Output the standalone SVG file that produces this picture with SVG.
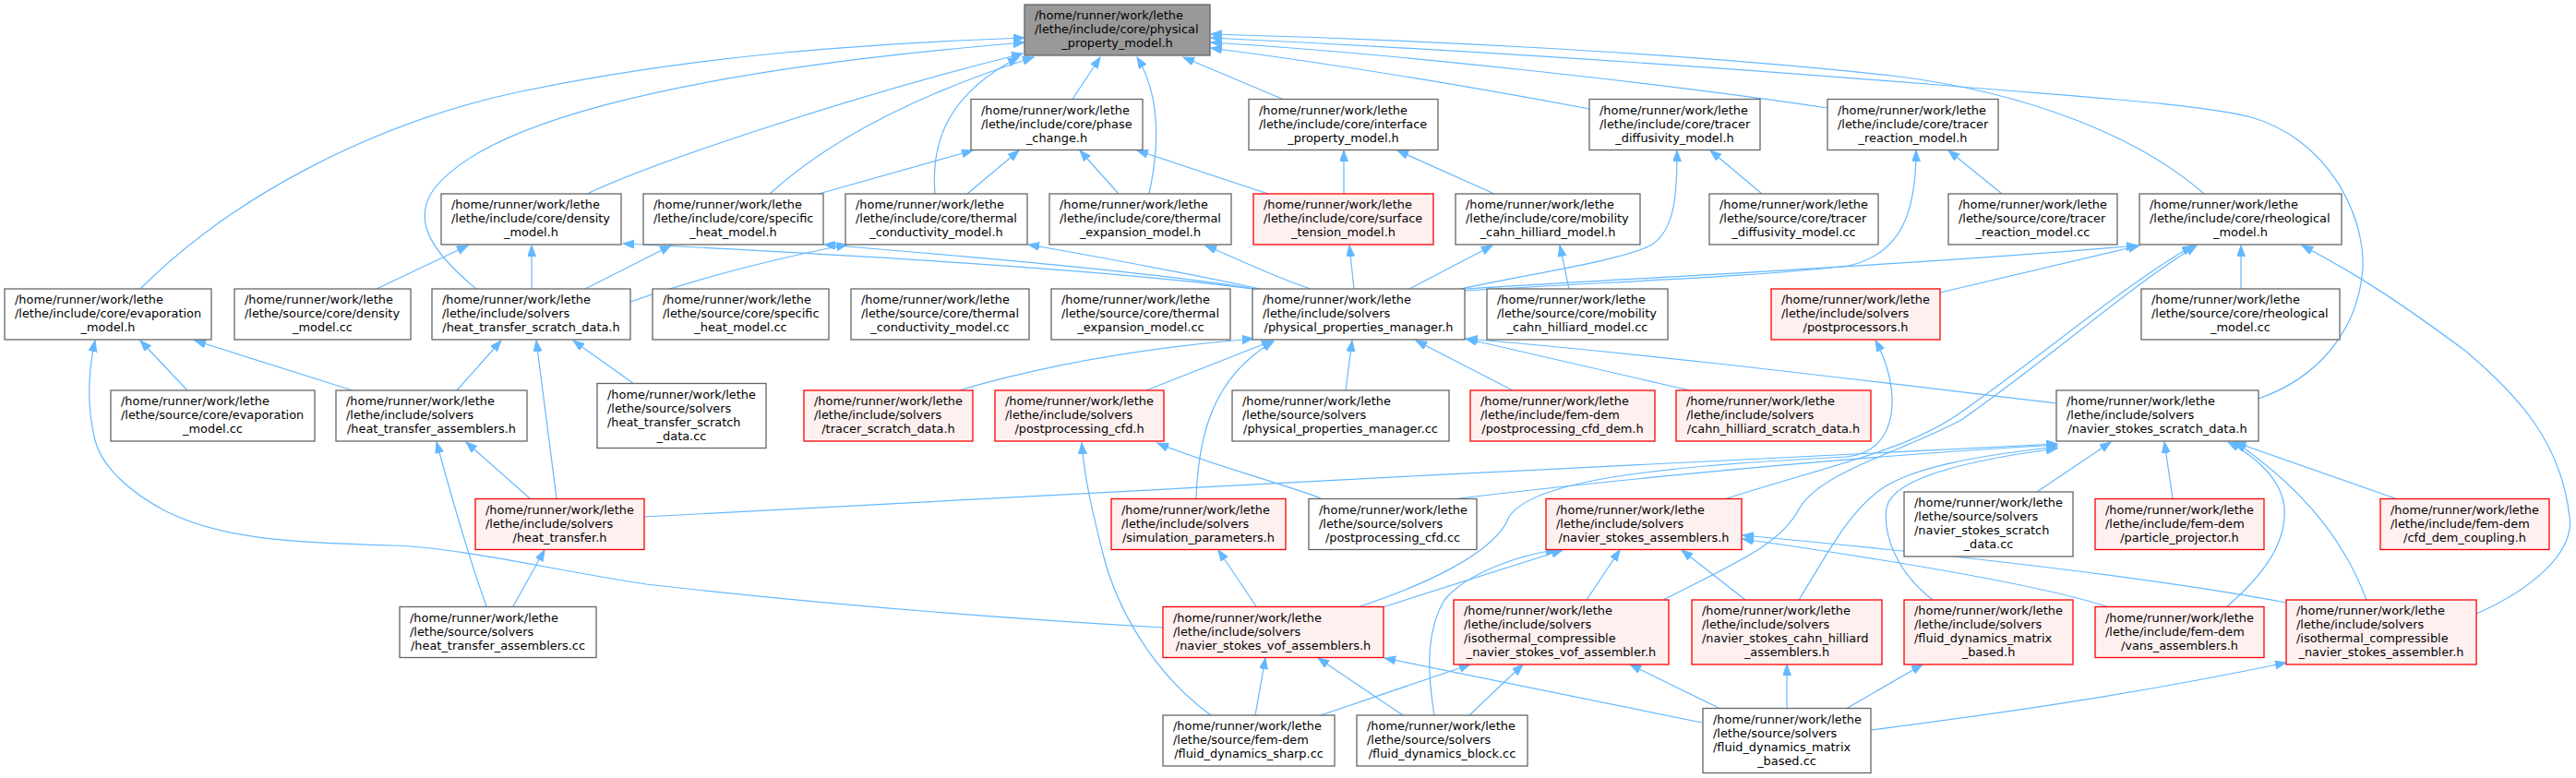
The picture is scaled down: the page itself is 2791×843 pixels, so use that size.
<svg xmlns="http://www.w3.org/2000/svg" width="2791" height="843" viewBox="0 0 2791 843">
<defs>
<style>
.node rect{fill:#ffffff;stroke:#666666;stroke-width:1.3}
.node.root rect{fill:#999999}
.node.red rect{fill:#fff0f0;stroke:#ff0000}
.node text{font-family:"DejaVu Sans",sans-serif;font-size:12.9px;fill:#000000}
.c{text-anchor:middle}
#edges path{fill:none;stroke:#63b8ff;stroke-width:1.2;marker-end:url(#ah)}
</style>
<marker id="ah" markerUnits="userSpaceOnUse" markerWidth="13" markerHeight="10" refX="12" refY="4.5" orient="auto"><path d="M0,0 L12,4.5 L0,9 Z" fill="#63b8ff" stroke="#63b8ff" stroke-width="1"/></marker>
</defs>
<rect width="2791" height="843" fill="#ffffff"/>
<g id="edges">
<path d="M152,313 C250,215 400,135 560,100 C760,58 950,47 1110,41"/>
<path d="M516,313 C470,275 445,240 470,205 C520,140 700,80 1110,46"/>
<path d="M636,210 C700,180 900,110 1108,58"/>
<path d="M834,210 C900,150 1000,100 1120,62"/>
<path d="M1013,210 C1008,150 1030,100 1104,62"/>
<path d="M1162,107.5 L1192,62"/>
<path d="M1245,210 C1258,150 1255,100 1232,62"/>
<path d="M1390,107.5 L1282,62"/>
<path d="M1722,118 C1600,95 1450,70 1312,52"/>
<path d="M1980,117 C1800,90 1500,57 1312,46"/>
<path d="M2388,210 C2320,150 2200,100 2050,82 C1800,55 1500,42 1312,37"/>
<path d="M2447,432 C2510,410 2555,360 2560,290 C2562,230 2520,150 2439,127 C2380,112 2250,105 2100,92 C1800,68 1500,50 1312,41"/>
<path d="M887,210 L1054,163"/>
<path d="M1048,210 L1104,163"/>
<path d="M1212,210 L1170,163"/>
<path d="M1374,210 L1232,163"/>
<path d="M1456,210 L1456,163"/>
<path d="M1619,210 L1514,163"/>
<path d="M1909,210 L1853,163"/>
<path d="M1583,313 C1650,298 1760,282 1790,265 C1815,248 1817,210 1817,163"/>
<path d="M2169,210 L2111,163"/>
<path d="M1587,315 C1750,305 1900,300 2003,288 C2060,275 2076,230 2076,163"/>
<path d="M408,313 L507,266"/>
<path d="M576,313 L576,266"/>
<path d="M634,313 L727,266"/>
<path d="M683,327 C760,300 850,278 918,265"/>
<path d="M1357,313 C1200,292 900,275 675,264"/>
<path d="M1360,313 C1250,295 1050,278 893,265"/>
<path d="M1365,313 C1280,295 1200,280 1114,265"/>
<path d="M1420,313 C1380,300 1340,280 1306,266"/>
<path d="M1467,313 L1462,266"/>
<path d="M1527,313 L1617,266"/>
<path d="M1700,313 L1690,266"/>
<path d="M1587,313 C1800,300 2100,285 2316,266"/>
<path d="M2428,313 L2428,266"/>
<path d="M2102,317 L2318,266"/>
<path d="M2683,665 C2740,640 2790,600 2784,560 C2775,480 2730,430 2671,380 C2610,335 2560,300 2494,266"/>
<path d="M1871,540 C1980,505 2060,490 2120,450 C2220,380 2300,310 2376,266"/>
<path d="M1802,650 C1880,610 1930,590 1950,550 C1975,510 2060,490 2125,455 C2225,385 2305,312 2380,266"/>
<path d="M203,423 L152,369"/>
<path d="M382,423 L211,369"/>
<path d="M495,423 L543,369"/>
<path d="M687,416 L621,369"/>
<path d="M574,540 L505,479"/>
<path d="M603,540 L581,369"/>
<path d="M527,657 C510,610 495,560 473,479"/>
<path d="M556,657 L590,596"/>
<path d="M1260,680 C1050,668 850,650 700,633 C600,618 500,593 424,591 C320,588 240,585 178,553 C140,533 110,505 103,477 C95,445 94,410 103,369"/>
<path d="M698,560 C1000,545 1800,500 2229,481"/>
<path d="M1039,423 C1100,405 1200,380 1358,367"/>
<path d="M1242,423 L1379,369"/>
<path d="M1458,423 L1465,369"/>
<path d="M1639,423 L1534,369"/>
<path d="M1831,423 L1588,367"/>
<path d="M2228,437 C2000,410 1800,385 1589,367"/>
<path d="M1296,540 C1298,480 1310,410 1380,370"/>
<path d="M1431,540 C1400,527 1300,500 1254,480"/>
<path d="M1312,775 C1250,730 1210,660 1195,600 C1185,560 1175,520 1172,480"/>
<path d="M1361,657 L1320,596"/>
<path d="M1360,775 L1371,713"/>
<path d="M1431,775 L1593,720"/>
<path d="M1520,775 L1428,713"/>
<path d="M1592,775 L1650,720"/>
<path d="M1554,775 C1545,720 1547,680 1565,650 C1590,620 1650,600 1687,596"/>
<path d="M1844,783 L1500,713"/>
<path d="M1864,768 L1766,720"/>
<path d="M1936,768 L1936,720"/>
<path d="M2000,768 L2083,720"/>
<path d="M2027,791 C2150,775 2300,755 2477,718"/>
<path d="M1498,658 L1693,596"/>
<path d="M1471,658 C1540,635 1620,600 1635,560 C1660,520 1800,505 2000,495 C2060,490 2060,420 2032,369"/>
<path d="M1719,650 L1755,596"/>
<path d="M1891,650 L1822,596"/>
<path d="M2285,658 C2200,630 2000,600 1888,584"/>
<path d="M2477,653 C2300,620 2050,595 1888,580"/>
<path d="M2207,533 L2287,479"/>
<path d="M2354,540 L2345,479"/>
<path d="M2412,658 C2450,625 2478,590 2475,550 C2472,520 2445,495 2414,479"/>
<path d="M2564,650 C2545,600 2510,540 2422,479"/>
<path d="M2595,540 L2421,479"/>
<path d="M1581,540 C1750,520 2000,495 2229,482"/>
<path d="M1949,650 C1980,600 2000,560 2034,533 C2070,505 2150,493 2229,484"/>
<path d="M2094,650 C2055,620 2040,580 2044,550 C2050,520 2120,500 2229,486"/>
</g>
<g id="n_root" class="node root"><rect x="1110" y="5" width="201" height="55"/><text><tspan x="1121" y="21">/home/runner/work/lethe</tspan><tspan x="1121" y="36">/lethe/include/core/physical</tspan><tspan class="c" x="1210.5" y="51">_property_model.h</tspan></text></g>
<g id="n_phase_change" class="node"><rect x="1052" y="107.5" width="186" height="55"/><text><tspan x="1063" y="123.5">/home/runner/work/lethe</tspan><tspan x="1063" y="138.5">/lethe/include/core/phase</tspan><tspan class="c" x="1145" y="153.5">_change.h</tspan></text></g>
<g id="n_interface" class="node"><rect x="1353" y="107.5" width="205" height="55"/><text><tspan x="1364" y="123.5">/home/runner/work/lethe</tspan><tspan x="1364" y="138.5">/lethe/include/core/interface</tspan><tspan class="c" x="1455.5" y="153.5">_property_model.h</tspan></text></g>
<g id="n_tracer_diff_h" class="node"><rect x="1722" y="107.5" width="185" height="55"/><text><tspan x="1733" y="123.5">/home/runner/work/lethe</tspan><tspan x="1733" y="138.5">/lethe/include/core/tracer</tspan><tspan class="c" x="1814.5" y="153.5">_diffusivity_model.h</tspan></text></g>
<g id="n_tracer_react_h" class="node"><rect x="1980" y="107.5" width="185" height="55"/><text><tspan x="1991" y="123.5">/home/runner/work/lethe</tspan><tspan x="1991" y="138.5">/lethe/include/core/tracer</tspan><tspan class="c" x="2072.5" y="153.5">_reaction_model.h</tspan></text></g>
<g id="n_density_h" class="node"><rect x="478" y="210" width="195" height="55"/><text><tspan x="489" y="226">/home/runner/work/lethe</tspan><tspan x="489" y="241">/lethe/include/core/density</tspan><tspan class="c" x="575.5" y="256">_model.h</tspan></text></g>
<g id="n_specific_heat_h" class="node"><rect x="697" y="210" width="195" height="55"/><text><tspan x="708" y="226">/home/runner/work/lethe</tspan><tspan x="708" y="241">/lethe/include/core/specific</tspan><tspan class="c" x="794.5" y="256">_heat_model.h</tspan></text></g>
<g id="n_thermal_cond_h" class="node"><rect x="916" y="210" width="197" height="55"/><text><tspan x="927" y="226">/home/runner/work/lethe</tspan><tspan x="927" y="241">/lethe/include/core/thermal</tspan><tspan class="c" x="1014.5" y="256">_conductivity_model.h</tspan></text></g>
<g id="n_thermal_exp_h" class="node"><rect x="1137" y="210" width="197" height="55"/><text><tspan x="1148" y="226">/home/runner/work/lethe</tspan><tspan x="1148" y="241">/lethe/include/core/thermal</tspan><tspan class="c" x="1235.5" y="256">_expansion_model.h</tspan></text></g>
<g id="n_surface_tension_h" class="node red"><rect x="1358" y="210" width="195" height="55"/><text><tspan x="1369" y="226">/home/runner/work/lethe</tspan><tspan x="1369" y="241">/lethe/include/core/surface</tspan><tspan class="c" x="1455.5" y="256">_tension_model.h</tspan></text></g>
<g id="n_mobility_h" class="node"><rect x="1577" y="210" width="200" height="55"/><text><tspan x="1588" y="226">/home/runner/work/lethe</tspan><tspan x="1588" y="241">/lethe/include/core/mobility</tspan><tspan class="c" x="1677" y="256">_cahn_hilliard_model.h</tspan></text></g>
<g id="n_tracer_diff_cc" class="node"><rect x="1852" y="210" width="183" height="55"/><text><tspan x="1863" y="226">/home/runner/work/lethe</tspan><tspan x="1863" y="241">/lethe/source/core/tracer</tspan><tspan class="c" x="1943.5" y="256">_diffusivity_model.cc</tspan></text></g>
<g id="n_tracer_react_cc" class="node"><rect x="2111" y="210" width="183" height="55"/><text><tspan x="2122" y="226">/home/runner/work/lethe</tspan><tspan x="2122" y="241">/lethe/source/core/tracer</tspan><tspan class="c" x="2202.5" y="256">_reaction_model.cc</tspan></text></g>
<g id="n_rheological_h" class="node"><rect x="2318" y="210" width="219" height="55"/><text><tspan x="2329" y="226">/home/runner/work/lethe</tspan><tspan x="2329" y="241">/lethe/include/core/rheological</tspan><tspan class="c" x="2427.5" y="256">_model.h</tspan></text></g>
<g id="n_evaporation_h" class="node"><rect x="5" y="313" width="224" height="55"/><text><tspan x="16" y="329">/home/runner/work/lethe</tspan><tspan x="16" y="344">/lethe/include/core/evaporation</tspan><tspan class="c" x="117" y="359">_model.h</tspan></text></g>
<g id="n_density_cc" class="node"><rect x="254" y="313" width="191" height="55"/><text><tspan x="265" y="329">/home/runner/work/lethe</tspan><tspan x="265" y="344">/lethe/source/core/density</tspan><tspan class="c" x="349.5" y="359">_model.cc</tspan></text></g>
<g id="n_ht_scratch_h" class="node"><rect x="468" y="313" width="215" height="55"/><text><tspan x="479" y="329">/home/runner/work/lethe</tspan><tspan x="479" y="344">/lethe/include/solvers</tspan><tspan class="c" x="575.5" y="359">/heat_transfer_scratch_data.h</tspan></text></g>
<g id="n_specific_heat_cc" class="node"><rect x="707" y="313" width="191" height="55"/><text><tspan x="718" y="329">/home/runner/work/lethe</tspan><tspan x="718" y="344">/lethe/source/core/specific</tspan><tspan class="c" x="802.5" y="359">_heat_model.cc</tspan></text></g>
<g id="n_thermal_cond_cc" class="node"><rect x="922" y="313" width="193" height="55"/><text><tspan x="933" y="329">/home/runner/work/lethe</tspan><tspan x="933" y="344">/lethe/source/core/thermal</tspan><tspan class="c" x="1018.5" y="359">_conductivity_model.cc</tspan></text></g>
<g id="n_thermal_exp_cc" class="node"><rect x="1139" y="313" width="194" height="55"/><text><tspan x="1150" y="329">/home/runner/work/lethe</tspan><tspan x="1150" y="344">/lethe/source/core/thermal</tspan><tspan class="c" x="1236" y="359">_expansion_model.cc</tspan></text></g>
<g id="n_ppm_h" class="node"><rect x="1357" y="313" width="230" height="55"/><text><tspan x="1368" y="329">/home/runner/work/lethe</tspan><tspan x="1368" y="344">/lethe/include/solvers</tspan><tspan class="c" x="1472" y="359">/physical_properties_manager.h</tspan></text></g>
<g id="n_mobility_cc" class="node"><rect x="1611" y="313" width="196" height="55"/><text><tspan x="1622" y="329">/home/runner/work/lethe</tspan><tspan x="1622" y="344">/lethe/source/core/mobility</tspan><tspan class="c" x="1709" y="359">_cahn_hilliard_model.cc</tspan></text></g>
<g id="n_postprocessors_h" class="node red"><rect x="1919" y="313" width="183" height="55"/><text><tspan x="1930" y="329">/home/runner/work/lethe</tspan><tspan x="1930" y="344">/lethe/include/solvers</tspan><tspan class="c" x="2010.5" y="359">/postprocessors.h</tspan></text></g>
<g id="n_rheological_cc" class="node"><rect x="2320" y="313" width="215" height="55"/><text><tspan x="2331" y="329">/home/runner/work/lethe</tspan><tspan x="2331" y="344">/lethe/source/core/rheological</tspan><tspan class="c" x="2427.5" y="359">_model.cc</tspan></text></g>
<g id="n_evaporation_cc" class="node"><rect x="120" y="423" width="221" height="55"/><text><tspan x="131" y="439">/home/runner/work/lethe</tspan><tspan x="131" y="454">/lethe/source/core/evaporation</tspan><tspan class="c" x="230.5" y="469">_model.cc</tspan></text></g>
<g id="n_ht_assemblers_h" class="node"><rect x="364" y="423" width="207" height="55"/><text><tspan x="375" y="439">/home/runner/work/lethe</tspan><tspan x="375" y="454">/lethe/include/solvers</tspan><tspan class="c" x="467.5" y="469">/heat_transfer_assemblers.h</tspan></text></g>
<g id="n_ht_scratch_cc" class="node"><rect x="647" y="415.5" width="183" height="70"/><text><tspan x="658" y="431.5">/home/runner/work/lethe</tspan><tspan x="658" y="446.5">/lethe/source/solvers</tspan><tspan x="658" y="461.5">/heat_transfer_scratch</tspan><tspan class="c" x="738.5" y="476.5">_data.cc</tspan></text></g>
<g id="n_tracer_scratch_h" class="node red"><rect x="871" y="423" width="183" height="55"/><text><tspan x="882" y="439">/home/runner/work/lethe</tspan><tspan x="882" y="454">/lethe/include/solvers</tspan><tspan class="c" x="962.5" y="469">/tracer_scratch_data.h</tspan></text></g>
<g id="n_postproc_cfd_h" class="node red"><rect x="1078" y="423" width="183" height="55"/><text><tspan x="1089" y="439">/home/runner/work/lethe</tspan><tspan x="1089" y="454">/lethe/include/solvers</tspan><tspan class="c" x="1169.5" y="469">/postprocessing_cfd.h</tspan></text></g>
<g id="n_ppm_cc" class="node"><rect x="1335" y="423" width="235" height="55"/><text><tspan x="1346" y="439">/home/runner/work/lethe</tspan><tspan x="1346" y="454">/lethe/source/solvers</tspan><tspan class="c" x="1452.5" y="469">/physical_properties_manager.cc</tspan></text></g>
<g id="n_postproc_cfd_dem_h" class="node red"><rect x="1593" y="423" width="200" height="55"/><text><tspan x="1604" y="439">/home/runner/work/lethe</tspan><tspan x="1604" y="454">/lethe/include/fem-dem</tspan><tspan class="c" x="1693" y="469">/postprocessing_cfd_dem.h</tspan></text></g>
<g id="n_ch_scratch_h" class="node red"><rect x="1816" y="423" width="211" height="55"/><text><tspan x="1827" y="439">/home/runner/work/lethe</tspan><tspan x="1827" y="454">/lethe/include/solvers</tspan><tspan class="c" x="1921.5" y="469">/cahn_hilliard_scratch_data.h</tspan></text></g>
<g id="n_ns_scratch_h" class="node"><rect x="2228" y="423" width="219" height="55"/><text><tspan x="2239" y="439">/home/runner/work/lethe</tspan><tspan x="2239" y="454">/lethe/include/solvers</tspan><tspan class="c" x="2337.5" y="469">/navier_stokes_scratch_data.h</tspan></text></g>
<g id="n_heat_transfer_h" class="node red"><rect x="515" y="540.5" width="183" height="55"/><text><tspan x="526" y="556.5">/home/runner/work/lethe</tspan><tspan x="526" y="571.5">/lethe/include/solvers</tspan><tspan class="c" x="606.5" y="586.5">/heat_transfer.h</tspan></text></g>
<g id="n_sim_params_h" class="node red"><rect x="1204" y="540.5" width="189" height="55"/><text><tspan x="1215" y="556.5">/home/runner/work/lethe</tspan><tspan x="1215" y="571.5">/lethe/include/solvers</tspan><tspan class="c" x="1298.5" y="586.5">/simulation_parameters.h</tspan></text></g>
<g id="n_postproc_cfd_cc" class="node"><rect x="1418" y="540.5" width="182" height="55"/><text><tspan x="1429" y="556.5">/home/runner/work/lethe</tspan><tspan x="1429" y="571.5">/lethe/source/solvers</tspan><tspan class="c" x="1509" y="586.5">/postprocessing_cfd.cc</tspan></text></g>
<g id="n_ns_assemblers_h" class="node red"><rect x="1675" y="540.5" width="212" height="55"/><text><tspan x="1686" y="556.5">/home/runner/work/lethe</tspan><tspan x="1686" y="571.5">/lethe/include/solvers</tspan><tspan class="c" x="1781" y="586.5">/navier_stokes_assemblers.h</tspan></text></g>
<g id="n_ns_scratch_cc" class="node"><rect x="2063" y="533" width="183" height="70"/><text><tspan x="2074" y="549">/home/runner/work/lethe</tspan><tspan x="2074" y="564">/lethe/source/solvers</tspan><tspan x="2074" y="579">/navier_stokes_scratch</tspan><tspan class="c" x="2154.5" y="594">_data.cc</tspan></text></g>
<g id="n_particle_projector_h" class="node red"><rect x="2270" y="540.5" width="183" height="55"/><text><tspan x="2281" y="556.5">/home/runner/work/lethe</tspan><tspan x="2281" y="571.5">/lethe/include/fem-dem</tspan><tspan class="c" x="2361.5" y="586.5">/particle_projector.h</tspan></text></g>
<g id="n_cfd_dem_coupling_h" class="node red"><rect x="2579" y="540.5" width="183" height="55"/><text><tspan x="2590" y="556.5">/home/runner/work/lethe</tspan><tspan x="2590" y="571.5">/lethe/include/fem-dem</tspan><tspan class="c" x="2670.5" y="586.5">/cfd_dem_coupling.h</tspan></text></g>
<g id="n_ht_assemblers_cc" class="node"><rect x="433" y="657.5" width="213" height="55"/><text><tspan x="444" y="673.5">/home/runner/work/lethe</tspan><tspan x="444" y="688.5">/lethe/source/solvers</tspan><tspan class="c" x="539.5" y="703.5">/heat_transfer_assemblers.cc</tspan></text></g>
<g id="n_ns_vof_assemblers_h" class="node red"><rect x="1260" y="657.5" width="239" height="55"/><text><tspan x="1271" y="673.5">/home/runner/work/lethe</tspan><tspan x="1271" y="688.5">/lethe/include/solvers</tspan><tspan class="c" x="1379.5" y="703.5">/navier_stokes_vof_assemblers.h</tspan></text></g>
<g id="n_ic_ns_vof_assembler_h" class="node red"><rect x="1575" y="650" width="233" height="70"/><text><tspan x="1586" y="666">/home/runner/work/lethe</tspan><tspan x="1586" y="681">/lethe/include/solvers</tspan><tspan x="1586" y="696">/isothermal_compressible</tspan><tspan class="c" x="1691.5" y="711">_navier_stokes_vof_assembler.h</tspan></text></g>
<g id="n_ns_ch_assemblers_h" class="node red"><rect x="1833" y="650" width="206" height="70"/><text><tspan x="1844" y="666">/home/runner/work/lethe</tspan><tspan x="1844" y="681">/lethe/include/solvers</tspan><tspan x="1844" y="696">/navier_stokes_cahn_hilliard</tspan><tspan class="c" x="1936" y="711">_assemblers.h</tspan></text></g>
<g id="n_fd_matrix_based_h" class="node red"><rect x="2063" y="650" width="183" height="70"/><text><tspan x="2074" y="666">/home/runner/work/lethe</tspan><tspan x="2074" y="681">/lethe/include/solvers</tspan><tspan x="2074" y="696">/fluid_dynamics_matrix</tspan><tspan class="c" x="2154.5" y="711">_based.h</tspan></text></g>
<g id="n_vans_assemblers_h" class="node red"><rect x="2270" y="657.5" width="183" height="55"/><text><tspan x="2281" y="673.5">/home/runner/work/lethe</tspan><tspan x="2281" y="688.5">/lethe/include/fem-dem</tspan><tspan class="c" x="2361.5" y="703.5">/vans_assemblers.h</tspan></text></g>
<g id="n_ic_ns_assembler_h" class="node red"><rect x="2477" y="650" width="206" height="70"/><text><tspan x="2488" y="666">/home/runner/work/lethe</tspan><tspan x="2488" y="681">/lethe/include/solvers</tspan><tspan x="2488" y="696">/isothermal_compressible</tspan><tspan class="c" x="2580" y="711">_navier_stokes_assembler.h</tspan></text></g>
<g id="n_fd_sharp_cc" class="node"><rect x="1260" y="775" width="186" height="55"/><text><tspan x="1271" y="791">/home/runner/work/lethe</tspan><tspan x="1271" y="806">/lethe/source/fem-dem</tspan><tspan class="c" x="1353" y="821">/fluid_dynamics_sharp.cc</tspan></text></g>
<g id="n_fd_block_cc" class="node"><rect x="1470" y="775" width="185" height="55"/><text><tspan x="1481" y="791">/home/runner/work/lethe</tspan><tspan x="1481" y="806">/lethe/source/solvers</tspan><tspan class="c" x="1562.5" y="821">/fluid_dynamics_block.cc</tspan></text></g>
<g id="n_fd_matrix_based_cc" class="node"><rect x="1845" y="767.5" width="182" height="70"/><text><tspan x="1856" y="783.5">/home/runner/work/lethe</tspan><tspan x="1856" y="798.5">/lethe/source/solvers</tspan><tspan x="1856" y="813.5">/fluid_dynamics_matrix</tspan><tspan class="c" x="1936" y="828.5">_based.cc</tspan></text></g>
</svg>
